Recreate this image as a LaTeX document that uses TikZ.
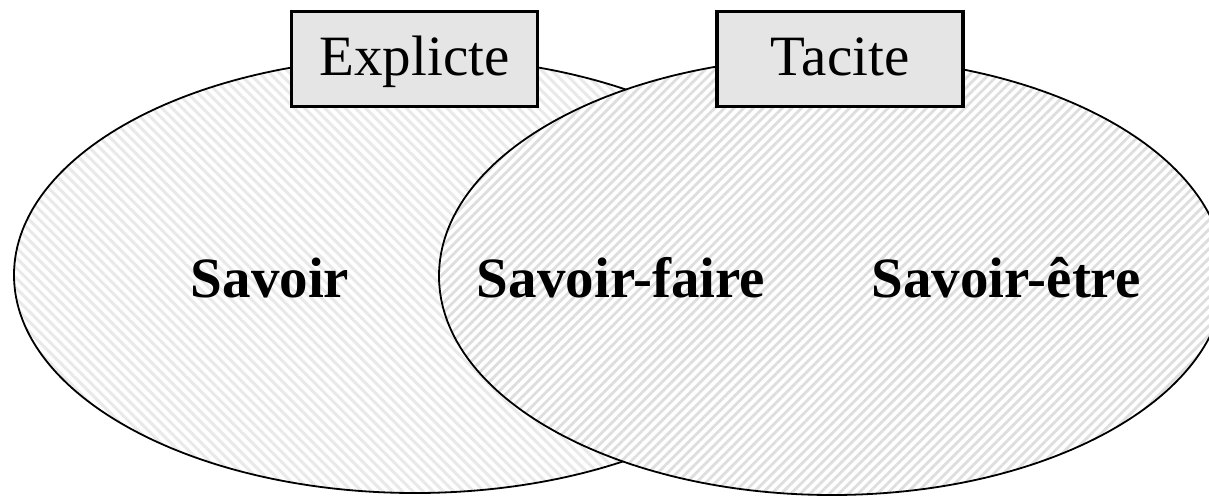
\documentclass[tikz,border=0pt]{standalone}
\usepackage{fontspec}
\setmainfont{Liberation Serif}
\usetikzlibrary{shapes.geometric,patterns.meta}

\begin{document}
\begin{tikzpicture}[x=1pt,y=-1pt]
	\tikzset{ZoneStyle/.style =
	{draw,
		shape = ellipse,
		line width = 1.8pt,
		inner sep = 0pt,
		preaction = {fill = white}},
	TitleStyle/.style =
	{draw,
		line width = 3.5pt,
		fill = gray!20,
		minimum width = 246pt,
		minimum height = 95pt,
		text height = 44pt,
		text depth = 12pt,
		font = \fontsize{57}{60}\selectfont},
	SkillStyle/.style =
	{anchor = base,
		font = \bfseries\fontsize{57}{60}\selectfont}}
\useasboundingbox (0,0) rectangle (1209,496);
\clip (0,0) rectangle (1209,496);
% les deux zones
\node[ZoneStyle, minimum width = 802pt, minimum height = 436pt,
	pattern = {Lines[angle=-45, distance=7.2pt, line width=3pt]},
	pattern color = gray!17] (explicite) at (415,275) {};
\node[ZoneStyle, minimum width = 786pt, minimum height = 438pt,
	pattern = {Lines[angle=45, distance=6.8pt, line width=2.8pt]},
	pattern color = gray!26] (tacite) at (832,276) {};
% titres
\node[TitleStyle] (titreE) at (414.5,59) {Explicte};
\node[TitleStyle] (titreT) at (840,59) {Tacite};
% savoirs
\node[SkillStyle] (savoir) at (270,297) {Savoir};
\node[SkillStyle] (faire) at (621,297) {Savoir-faire};
\node[SkillStyle] (etre) at (1006,297) {Savoir-être};
\end{tikzpicture}
\end{document}
